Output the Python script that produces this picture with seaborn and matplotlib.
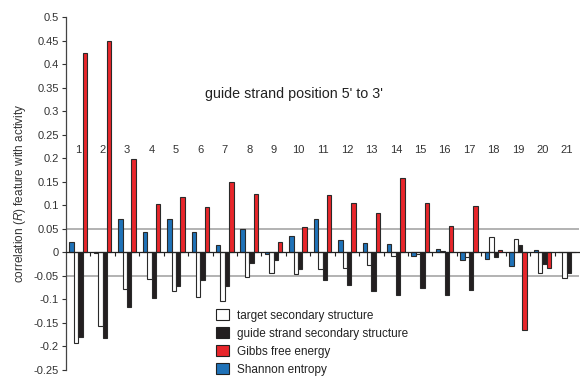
import matplotlib
matplotlib.use("Agg")
import matplotlib.pyplot as plt
from matplotlib.patches import Patch
import numpy as np
import pandas as pd
import seaborn as sns

# guide strand positions 1..21 (5' to 3')
positions = [str(i) for i in range(1, 22)]

target_secondary = [-0.193, -0.157, -0.077, -0.057, -0.082, -0.094, -0.103, -0.052, -0.043, -0.045,
                    -0.036, -0.034, -0.027, -0.008, -0.003, 0.003, -0.009, 0.032, 0.028, -0.044, -0.054]
guide_secondary = [-0.179, -0.183, -0.117, -0.096, -0.071, -0.058, -0.072, -0.022, -0.016, -0.036,
                   -0.059, -0.070, -0.083, -0.091, -0.076, -0.090, -0.080, -0.010, 0.016, -0.025, -0.044]
gibbs_free_energy = [0.423, 0.449, 0.198, 0.103, 0.118, 0.096, 0.150, 0.125, 0.021, 0.053,
                     0.121, 0.104, 0.084, 0.158, 0.104, 0.055, 0.099, 0.006, -0.164, -0.033, 0.0]
shannon_entropy = [0.021, -0.002, 0.071, 0.043, 0.071, 0.043, 0.016, 0.049, -0.003, 0.035,
                   0.071, 0.026, 0.020, 0.018, -0.008, 0.008, -0.016, -0.015, -0.028, 0.006, 0.0]

feature_names = ["target secondary structure", "guide strand secondary structure",
                 "Gibbs free energy", "Shannon entropy"]
bar_order = ["Shannon entropy", "target secondary structure",
             "guide strand secondary structure", "Gibbs free energy"]
colors = {
    "target secondary structure": "#ffffff",
    "guide strand secondary structure": "#231f20",
    "Gibbs free energy": "#e8262b",
    "Shannon entropy": "#1f72b8",
}

series = dict(zip(feature_names, [target_secondary, guide_secondary,
                                  gibbs_free_energy, shannon_entropy]))
df = pd.concat(
    [pd.DataFrame({"position": positions, "feature": name, "R": vals})
     for name, vals in series.items()],
    ignore_index=True,
)

sns.set_style("white")
plt.rcParams["font.family"] = ["Liberation Sans", "DejaVu Sans"]
plt.rcParams["axes.unicode_minus"] = False
plt.rcParams["mathtext.fontset"] = "custom"
plt.rcParams["mathtext.it"] = "Liberation Sans:italic"
plt.rcParams["mathtext.rm"] = "Liberation Sans"

fig = plt.figure(figsize=(5.8, 3.76), dpi=100)
ax = fig.add_axes([66 / 580, 1 - 370 / 376, (579 - 66) / 580, (370 - 17) / 376])

# reference lines at +/-0.05
for y in (0.05, -0.05):
    ax.axhline(y, color="#a6a6a6", lw=1.2, zorder=0)

sns.barplot(data=df, x="position", y="R", hue="feature", order=positions,
            hue_order=bar_order, palette=colors, width=0.72, gap=0,
            edgecolor="#2a2a2a", linewidth=0.8, saturation=1, legend=False,
            errorbar=None, ax=ax, zorder=3)

ax.set_xlim(-0.5, 20.5)
ax.set_ylim(-0.25, 0.5)

yticks = np.round(np.arange(-0.25, 0.5001, 0.05), 2)
ax.set_yticks(yticks)
ax.set_yticklabels([f"{v:g}" if abs(v) > 1e-9 else "0" for v in yticks],
                   fontsize=8, color="#333333")
ax.tick_params(axis="y", direction="out", length=3, width=0.8, color="#333333", pad=2, left=True)

# x axis drawn along zero, with ticks between positions
for side in ("top", "right"):
    ax.spines[side].set_visible(False)
ax.spines["bottom"].set_position(("data", 0))
ax.spines["bottom"].set_color("#222222")
ax.spines["bottom"].set_linewidth(0.9)
ax.spines["bottom"].set_zorder(4)
ax.spines["left"].set_color("#444444")
ax.spines["left"].set_linewidth(0.9)
ax.set_xticks(np.arange(0.5, 20, 1))
ax.set_xticklabels([])
ax.tick_params(axis="x", direction="out", length=3, width=0.8, color="#222222", bottom=True)
ax.set_xlabel("")
ax.set_ylabel("correlation ($\\mathit{R}$) feature with activity", fontsize=8.5,
              color="#333333", labelpad=4)

for i, p in enumerate(positions):
    ax.text(i, 0.218, p, ha="center", va="center", fontsize=8, color="#333333")

ax.text(8.85, 0.336, "guide strand position 5' to 3'", ha="center", va="center",
        fontsize=10.3, color="#222222")

handles = [Patch(facecolor=colors[n], edgecolor="#222222", linewidth=0.8) for n in feature_names]
fig.legend(handles, feature_names, loc="upper left", bbox_to_anchor=(216 / 580, 1 - 309 / 376),
           frameon=False, fontsize=8.5, handlelength=1.1, handleheight=1.1,
           handletextpad=0.7, labelspacing=0.45, borderaxespad=0, borderpad=0,
           labelcolor="#222222")

fig.savefig("out.png", dpi=100)
